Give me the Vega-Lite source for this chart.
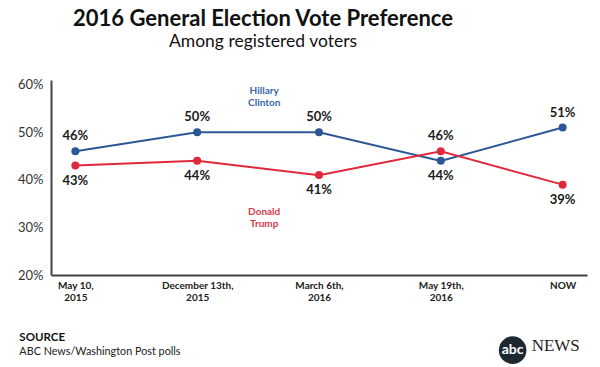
{
  "$schema": "https://vega.github.io/schema/vega-lite/v6.json",
  "autosize": {"type": "none"},
  "width": 536,
  "height": 195,
  "padding": {"left": 51, "top": 80, "right": 13, "bottom": 92},
  "background": "white",
  "title": {
    "text": "2016 General Election Vote Preference",
    "subtitle": "Among registered voters",
    "anchor": "middle",
    "dx": -56,
    "offset": 27,
    "font": "Lato",
    "fontSize": 22,
    "fontWeight": "bold",
    "color": "#111111",
    "subtitleFont": "Lato",
    "subtitleFontSize": 17.5,
    "subtitleColor": "#111111",
    "subtitlePadding": 2
  },
  "config": {"view": {"stroke": null}},
  "data": {
    "values": [
      {"date": "May 10, 2015", "candidate": "Clinton", "pct": 46},
      {"date": "December 13th, 2015", "candidate": "Clinton", "pct": 50},
      {"date": "March 6th, 2016", "candidate": "Clinton", "pct": 50},
      {"date": "May 19th, 2016", "candidate": "Clinton", "pct": 44},
      {"date": "NOW", "candidate": "Clinton", "pct": 51},
      {"date": "May 10, 2015", "candidate": "Trump", "pct": 43},
      {"date": "December 13th, 2015", "candidate": "Trump", "pct": 44},
      {"date": "March 6th, 2016", "candidate": "Trump", "pct": 41},
      {"date": "May 19th, 2016", "candidate": "Trump", "pct": 46},
      {"date": "NOW", "candidate": "Trump", "pct": 39}
    ]
  },
  "encoding": {
    "x": {
      "field": "date",
      "type": "nominal",
      "scale": {
        "type": "point",
        "domain": ["May 10, 2015", "December 13th, 2015", "March 6th, 2016", "May 19th, 2016", "NOW"],
        "padding": 0.2
      },
      "axis": {
        "title": null,
        "labelAngle": 0,
        "ticks": false,
        "tickSize": 0,
        "labelPadding": 5,
        "labelBaseline": "top",
        "labelFont": "Lato",
        "labelFontSize": 10,
        "labelFontWeight": "bold",
        "labelColor": "#222222",
        "labelLineHeight": 12.5,
        "domainColor": "#444444",
        "domainWidth": 2,
        "labelExpr": "indexof(datum.value, ',') > 0 ? [slice(datum.value, 0, indexof(datum.value, ',') + 1), slice(datum.value, indexof(datum.value, ',') + 2)] : datum.value"
      }
    },
    "y": {
      "field": "pct",
      "type": "quantitative",
      "scale": {"domain": [20, 61], "nice": false, "zero": false},
      "axis": {
        "title": null,
        "values": [20, 30, 40, 50, 60],
        "labelExpr": "datum.value + '%'",
        "grid": false,
        "ticks": false,
        "tickSize": 0,
        "labelPadding": 8,
        "labelFont": "Lato",
        "labelFontSize": 13,
        "labelColor": "#333333",
        "domainColor": "#444444",
        "domainWidth": 2
      }
    }
  },
  "layer": [
    {
      "mark": {"type": "line", "strokeWidth": 2},
      "encoding": {
        "color": {"field": "candidate", "type": "nominal", "scale": {"domain": ["Clinton", "Trump"], "range": ["#2c5796", "#e0283c"]}, "legend": null}
      }
    },
    {
      "mark": {"type": "point", "filled": true, "size": 64, "opacity": 1},
      "encoding": {
        "color": {"field": "candidate", "type": "nominal", "scale": {"domain": ["Clinton", "Trump"], "range": ["#2c5796", "#e0283c"]}, "legend": null}
      }
    },
    {
      "transform": [
        {"joinaggregate": [{"op": "max", "field": "pct", "as": "maxPct"}], "groupby": ["date"]},
        {"filter": "datum.pct == datum.maxPct"},
        {"calculate": "datum.pct + '%'", "as": "label"}
      ],
      "mark": {"type": "text", "dy": -15, "font": "Lato", "fontSize": 13, "fontWeight": "bold", "color": "#1a1a1a", "baseline": "middle"},
      "encoding": {"text": {"field": "label"}}
    },
    {
      "transform": [
        {"joinaggregate": [{"op": "max", "field": "pct", "as": "maxPct"}], "groupby": ["date"]},
        {"filter": "datum.pct < datum.maxPct"},
        {"calculate": "datum.pct + '%'", "as": "label"}
      ],
      "mark": {"type": "text", "dy": 15, "font": "Lato", "fontSize": 13, "fontWeight": "bold", "color": "#1a1a1a", "baseline": "middle"},
      "encoding": {"text": {"field": "label"}}
    },
    {
      "data": {"values": [{"date": "December 13th, 2015", "pct": 58.7, "text": "Hillary\nClinton"}]},
      "mark": {"type": "text", "dx": 67, "lineBreak": "\n", "lineHeight": 12, "font": "Lato", "fontSize": 10, "fontWeight": "bold", "color": "#3a67a6", "baseline": "middle"},
      "encoding": {"text": {"field": "text"}}
    },
    {
      "data": {"values": [{"date": "December 13th, 2015", "pct": 33.2, "text": "Donald\nTrump"}]},
      "mark": {"type": "text", "dx": 67, "lineBreak": "\n", "lineHeight": 12, "font": "Lato", "fontSize": 10, "fontWeight": "bold", "color": "#d9384a", "baseline": "middle"},
      "encoding": {"text": {"field": "text"}}
    },
    {
      "data": {"values": [{"date": "May 10, 2015", "pct": 6.8, "text": "SOURCE"}]},
      "mark": {"type": "text", "dx": -56, "align": "left", "baseline": "middle", "font": "Lato", "fontSize": 11.5, "fontWeight": "bold", "color": "#111111"},
      "encoding": {"text": {"field": "text"}}
    },
    {
      "data": {"values": [{"date": "May 10, 2015", "pct": 3.8, "text": "ABC News/Washington Post polls"}]},
      "mark": {"type": "text", "dx": -56, "align": "left", "baseline": "middle", "font": "Lato", "fontSize": 10.8, "color": "#222222"},
      "encoding": {"text": {"field": "text"}}
    },
    {
      "data": {"values": [{"date": "NOW", "pct": 4.2}]},
      "mark": {"type": "point", "shape": "circle", "filled": true, "size": 760, "opacity": 1, "color": "#1e2830", "xOffset": -50}
    },
    {
      "data": {"values": [{"date": "NOW", "pct": 4.2, "text": "abc"}]},
      "mark": {"type": "text", "dx": -50, "align": "center", "baseline": "middle", "font": "Lato", "fontSize": 14, "fontWeight": "bold", "color": "#ffffff"},
      "encoding": {"text": {"field": "text"}}
    },
    {
      "data": {"values": [{"date": "NOW", "pct": 5.0, "text": "NEWS"}]},
      "mark": {"type": "text", "dx": -31, "align": "left", "baseline": "middle", "font": "Liberation Serif", "fontSize": 17, "color": "#222222"},
      "encoding": {"text": {"field": "text"}}
    }
  ]
}
